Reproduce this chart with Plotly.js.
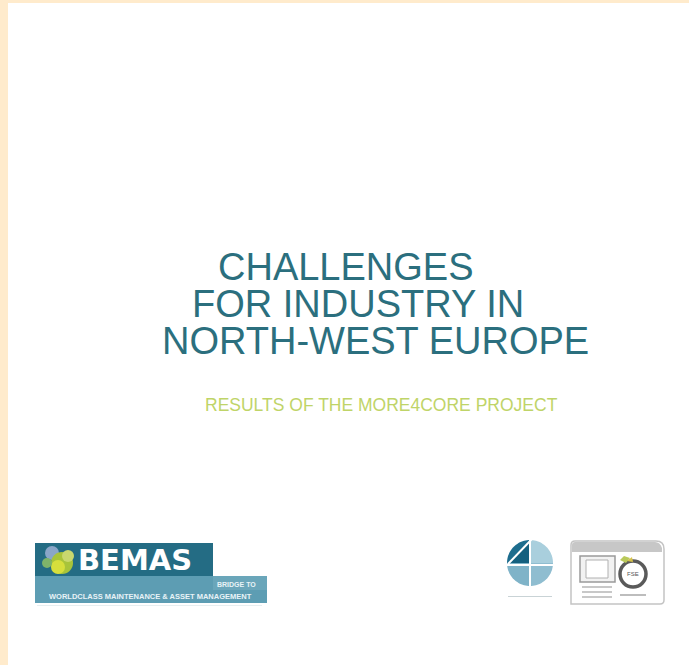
<!DOCTYPE html>
<html>
<head>
<meta charset="utf-8">
<script src="https://cdn.plot.ly/plotly-3.0.1.min.js"></script>
<style>html,body{margin:0;padding:0;background:#fff;overflow:hidden}#chart{width:689px;height:665px}</style>
</head>
<body>
<div id="chart"></div>
<script>
// Text content of the cover
const titleLines = ["CHALLENGES", "FOR INDUSTRY IN", "NORTH-WEST EUROPE"];
const subtitleText = ["RESULTS OF THE MORE4CORE PROJECT"];
const logoTexts = ["BEMAS", "BRIDGE TO", "WORLDCLASS MAINTENANCE &amp; ASSET MANAGEMENT"];

// layout positions (pixel space)
const titleX = [346, 358, 375];
const titleY = [267, 304, 341];

const W = 689, H = 665;
const teal = "#2b6f7e";
const ann = [];
titleLines.forEach((t, i) => ann.push({
  x: titleX[i], y: titleY[i], xref: "x", yref: "y", text: t, showarrow: false,
  xanchor: "center", yanchor: "middle", borderpad: 0,
  font: {family: "Liberation Sans", size: 38, color: teal}
}));
ann.push({x: 381, y: 405, xref: "x", yref: "y", text: subtitleText[0], showarrow: false,
  xanchor: "center", yanchor: "middle",
  font: {family: "Liberation Sans", size: 17.5, color: "#bfd468"}});
// BEMAS logo texts
ann.push({x: 76, y: 560, xref: "x", yref: "y", text: logoTexts[0], showarrow: false,
  xanchor: "left", yanchor: "middle",
  font: {family: "DejaVu Sans", size: 29, color: "#ffffff", weight: 700}});
ann.push({x: 236, y: 584, xref: "x", yref: "y", text: logoTexts[1], showarrow: false,
  xanchor: "center", yanchor: "middle",
  font: {family: "Liberation Sans", size: 7, color: "#e8f3f7", weight: 700}});
ann.push({x: 150, y: 596, xref: "x", yref: "y", text: logoTexts[2], showarrow: false,
  xanchor: "center", yanchor: "middle",
  font: {family: "Liberation Sans", size: 7.5, color: "#e8f3f7", weight: 700}});
// right logo small text
ann.push({x: 633, y: 574, xref: "x", yref: "y", text: "FSE", showarrow: false,
  xanchor: "center", yanchor: "middle", font: {family: "Liberation Sans", size: 6, color: "#555"}});

const shapes = [];
function rect(x0, y0, x1, y1, fill, line, lw) {
  shapes.push({type: "rect", xref: "x", yref: "y", x0, y0, x1, y1, fillcolor: fill,
    line: {color: line || fill, width: lw === undefined ? 0 : lw}, layer: "below"});
}
function circle(cx, cy, r, fill, line, lw) {
  shapes.push({type: "circle", xref: "x", yref: "y", x0: cx - r, x1: cx + r, y0: cy - r, y1: cy + r,
    fillcolor: fill, line: {color: line || fill, width: lw || 0}, layer: "below"});
}
function path(d, fill, line, lw) {
  shapes.push({type: "path", xref: "x", yref: "y", path: d, fillcolor: fill,
    line: {color: line || fill, width: lw || 0}, layer: "below"});
}
// cream border
rect(0, 0, 8, H, "#ffebcc");
rect(0, 0, W, 3, "#ffebcc");

// BEMAS logo
rect(35, 543, 213, 576, "#246c84");
rect(35, 576, 267, 603, "#5d9db3");
rect(213, 576, 267, 590, "#6aa6ba");
circle(52, 553, 7, "#8aa6c8");
circle(62, 563, 11, "#a8c43a");
circle(58, 567, 7, "#d6df3c");
circle(68, 556, 6, "#c9d86e");
circle(47, 563, 5, "#7fb46a");
rect(37, 605, 262, 606, "#e6eef0");

// 4-quadrant circle logo (polygon sectors)
const cx = 530, cy = 563, r = 23;
function sector(a0, a1, fill) {
  let d = `M ${cx},${cy}`;
  const n = 24;
  for (let k = 0; k <= n; k++) {
    const a = (a0 + (a1 - a0) * k / n) * Math.PI / 180;
    d += ` L ${(cx + r * Math.cos(a)).toFixed(2)},${(cy - r * Math.sin(a)).toFixed(2)}`;
  }
  path(d + " Z", fill);
}
sector(90, 180, "#1d6d8e");
sector(0, 90, "#a9cfdd");
sector(-90, 0, "#8fbdd0");
sector(-180, -90, "#7fb3c8");
path(`M ${cx},${cy} L ${cx - 22},${cy} L ${cx},${cy - 23} Z`, "#14607f");
path(`M ${cx},${cy - r - 1} L ${cx},${cy + r + 1}`, "rgba(0,0,0,0)", "#ffffff", 2);
path(`M ${cx - r - 1},${cy + 2} L ${cx + r + 1},${cy + 2}`, "rgba(0,0,0,0)", "#ffffff", 2);
path(`M ${cx - 22},${cy + 1} L ${cx + 2},${cy - 24}`, "rgba(0,0,0,0)", "#ffffff", 2);
rect(508, 596, 552, 597, "#c9d3d6");

// EU / FSE box
path("M 571,604 L 571,545 Q 571,541 575,541 L 656,541 Q 664,541 664,549 L 664,600 Q 664,604 660,604 Z",
  "#ffffff", "#c4c4c4", 1.5);
path("M 572,552 L 572,545 Q 572,542 575,542 L 655,542 Q 660,542 662,548 L 662,552 Z", "#c7c7c7");
rect(580, 556, 615, 582, "#f2f2f2", "#9a9a9a", 1.5);
rect(586, 560, 608, 578, "#ffffff", "#b0b0b0", 1);
rect(582, 586, 612, 588, "#c8c8c8");
rect(582, 591, 612, 593, "#c8c8c8");
rect(582, 596, 612, 598, "#c8c8c8");
circle(633, 574, 13, "#ffffff", "#5a5a5a", 3.5);
path("M 620,560 L 626,563 L 630,558 L 624,556 Z", "#b9c95a");
path("M 627,561 L 633,562 L 632,557 Z", "#d6c24a");
rect(620, 594, 646, 596, "#bdbdbd");

const layout = {
  width: W, height: H,
  margin: {l: 0, r: 0, t: 0, b: 0, pad: 0},
  paper_bgcolor: "#ffffff", plot_bgcolor: "#ffffff",
  xaxis: {range: [0, W], visible: false, fixedrange: true},
  yaxis: {range: [H, 0], visible: false, fixedrange: true},
  showlegend: false,
  annotations: ann,
  shapes: shapes
};
Plotly.newPlot("chart", [{x: [], y: [], type: "scatter", mode: "markers"}], layout, {displayModeBar: false, staticPlot: true});
</script>
</body>
</html>
